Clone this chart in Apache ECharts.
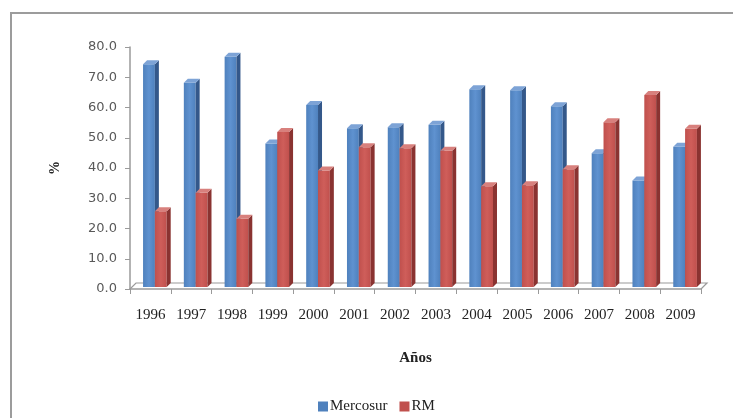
<!DOCTYPE html>
<html>
<head>
<meta charset="utf-8">
<script src="https://cdn.jsdelivr.net/npm/echarts@6/dist/echarts.min.js"></script>
<style>
  html, body { margin: 0; padding: 0; background: #ffffff; }
  #chart { width: 733px; height: 418px; }
</style>
</head>
<body>
<div id="chart"></div>
<script>
// Participación (%) por año: Mercosur vs RM
const years = ['1996', '1997', '1998', '1999', '2000', '2001', '2002', '2003', '2004', '2005', '2006', '2007', '2008', '2009'];
const mercosur = [74.3, 68.2, 76.8, 48.1, 60.8, 53.1, 53.5, 54.3, 66.0, 65.7, 60.4, 44.9, 35.9, 47.0];
const rm = [25.7, 31.8, 23.2, 51.9, 39.2, 46.9, 46.5, 45.7, 34.0, 34.3, 39.6, 55.1, 64.1, 53.0];
const yTicks = [0, 10, 20, 30, 40, 50, 60, 70, 80];

const chart = echarts.init(document.getElementById('chart'));

const DEPTH = 4;
const palette = {
  Mercosur: { front: '#4F81BD', light: '#5F92D0', side: '#34588A', top: '#7DA3D6' },
  RM: { front: '#C0504D', light: '#CF5E5A', side: '#8A3331', top: '#D8807D' }
};

// Draws one pseudo-3D column (front, side, top faces) per category
function makeRender(name, slot) {
  const c = palette[name];
  return function (params, api) {
    const idx = api.value(0);
    const v = api.value(1);
    const base = api.coord([idx, 0]);
    const top = api.coord([idx, v]);
    const cw = api.size([1, 0])[0];
    const bw = cw * 0.29;
    const left = base[0] - cw / 2 + cw * 0.32 + slot * bw;
    const y0 = base[1] - 2;
    const y1 = top[1];
    return {
      type: 'group',
      children: [
        {
          type: 'rect',
          shape: { x: left, y: y1, width: bw, height: y0 - y1 },
          style: {
            fill: new echarts.graphic.LinearGradient(0, 0, 1, 0, [
              { offset: 0, color: c.front },
              { offset: 0.5, color: c.light },
              { offset: 1, color: c.front }
            ])
          }
        },
        {
          type: 'polygon',
          shape: { points: [[left + bw, y1], [left + bw + DEPTH, y1 - DEPTH], [left + bw + DEPTH, y0 - DEPTH], [left + bw, y0]] },
          style: { fill: c.side }
        },
        {
          type: 'polygon',
          shape: { points: [[left, y1], [left + DEPTH, y1 - DEPTH], [left + bw + DEPTH, y1 - DEPTH], [left + bw, y1]] },
          style: { fill: c.top }
        }
      ]
    };
  };
}

function toData(arr) {
  return arr.map((v, i) => [i, v]);
}

const serif = '"Liberation Serif", "Times New Roman", serif';

chart.setOption({
  animation: false,
  backgroundColor: '#ffffff',
  grid: { left: 130, right: 32, top: 47, bottom: 129, containLabel: false },
  legend: {
    left: 313,
    top: 394,
    icon: 'rect',
    itemWidth: 10,
    itemHeight: 10,
    itemGap: 12,
    textStyle: { fontFamily: serif, fontSize: 15, color: '#222222', padding: [0, 0, 0, -3] },
    data: ['Mercosur', 'RM']
  },
  xAxis: {
    type: 'category',
    data: years,
    name: 'Años',
    nameLocation: 'middle',
    nameGap: 62,
    nameTextStyle: { fontFamily: serif, fontSize: 15, fontWeight: 'bold', color: '#222222' },
    axisLine: { lineStyle: { color: '#9a9a9a', width: 1.5 } },
    axisTick: { show: true, length: 5, lineStyle: { color: '#9a9a9a' } },
    axisLabel: { fontFamily: serif, fontSize: 15, color: '#222222', margin: 19, interval: 0 }
  },
  yAxis: {
    type: 'value',
    min: 0,
    max: 80,
    interval: 10,
    name: '%',
    nameLocation: 'middle',
    nameRotate: 90,
    nameGap: 68,
    nameTextStyle: { fontFamily: serif, fontSize: 14, fontWeight: 'bold', color: '#222222' },
    axisLine: { show: true, lineStyle: { color: '#9a9a9a', width: 1.5 } },
    axisTick: { show: true, length: 5, lineStyle: { color: '#9a9a9a' } },
    splitLine: { show: false },
    axisLabel: {
      fontFamily: '"DejaVu Sans", Verdana, sans-serif',
      fontSize: 13,
      color: '#595959',
      margin: 13,
      formatter: v => (yTicks.includes(v) ? v.toFixed(1) : '')
    }
  },
  series: [
    {
      name: 'Mercosur',
      type: 'custom',
      itemStyle: { color: palette.Mercosur.front },
      encode: { x: 0, y: 1 },
      data: toData(mercosur),
      renderItem: makeRender('Mercosur', 0),
      z: 2
    },
    {
      name: 'RM',
      type: 'custom',
      itemStyle: { color: palette.RM.front },
      encode: { x: 0, y: 1 },
      data: toData(rm),
      renderItem: makeRender('RM', 1),
      z: 3
    }
  ]
});

// Floor outline (from the category band edges) and outer frame
const c0 = chart.convertToPixel({ gridIndex: 0 }, [0, 0]);
const c1 = chart.convertToPixel({ gridIndex: 0 }, [1, 0]);
const cLast = chart.convertToPixel({ gridIndex: 0 }, [years.length - 1, 0]);
const band = c1[0] - c0[0];
const xL = c0[0] - band / 2;
const xR = cLast[0] + band / 2;
const yB = c0[1];
const fl = 6;
chart.setOption({
  graphic: [
    {
      type: 'polyline',
      z: 1,
      shape: { points: [[xL, yB], [xL + fl, yB - fl], [xR + fl, yB - fl], [xR, yB]] },
      style: { stroke: '#9a9a9a', lineWidth: 1.2, fill: null }
    },
    {
      type: 'rect',
      shape: { x: 11, y: 13, width: 760, height: 440 },
      style: { fill: null, stroke: '#9c9c9c', lineWidth: 2 }
    }
  ]
});
</script>
</body>
</html>
